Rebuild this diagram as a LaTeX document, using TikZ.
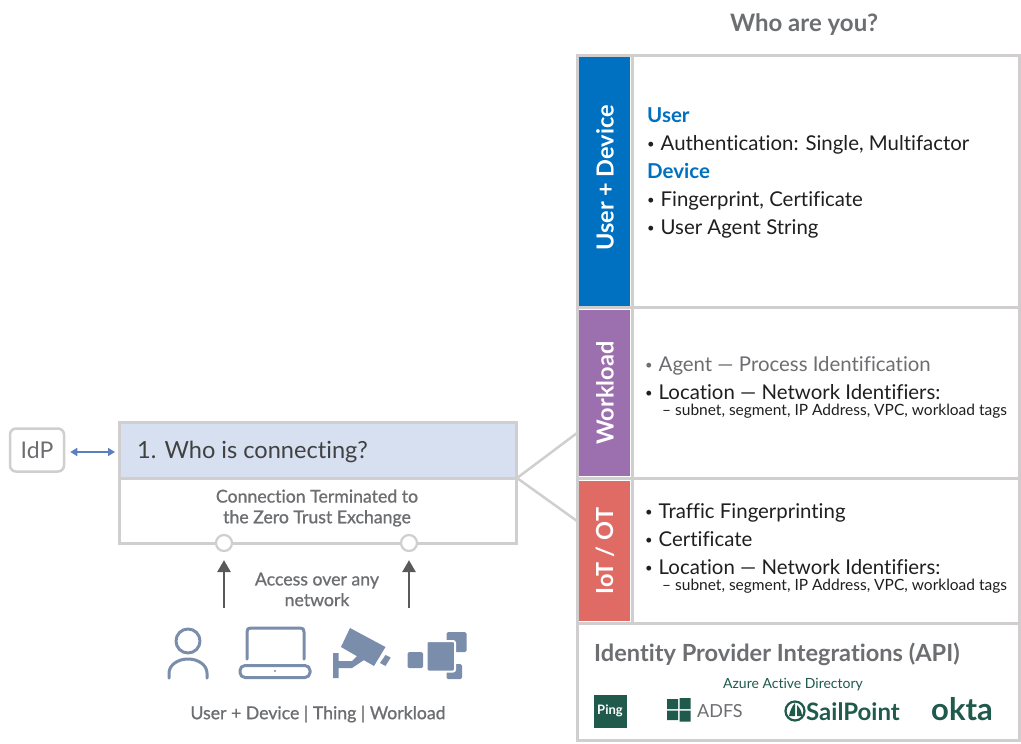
\documentclass[tikz,border=0pt]{standalone}
\usepackage{fontspec}
\setmainfont[Ligatures=NoCommon]{Lato}
\newfontfamily\medfont[FakeBold=1,Ligatures=NoCommon]{Lato}
\definecolor{rule}{HTML}{D0CECE}
\definecolor{txtgray}{HTML}{6D6E71}
\definecolor{ink}{HTML}{1F1F1F}
\definecolor{bluebar}{HTML}{0070C0}
\definecolor{purplebar}{HTML}{9C70AF}
\definecolor{redbar}{HTML}{E06B65}
\definecolor{titlefill}{HTML}{D6E0F1}
\definecolor{icon}{HTML}{7A8EAB}
\definecolor{arrowblue}{HTML}{5B7FBF}
\definecolor{arrowgray}{HTML}{595959}
\definecolor{logo}{HTML}{1F5A4C}
\newcommand{\fs}[1]{\fontsize{#1}{#1}\selectfont}
\newcommand{\bul}{\makebox[13.5pt][l]{\fs{13}\raisebox{1.5pt}{•}}}
\usetikzlibrary{arrows.meta}
\tikzset{
 x=1pt,y=-1pt,
 cell/.style={draw=rule,line width=3pt,fill=white},
 bartext/.style={white,font=\fs{23.5}\bfseries,rotate=90,anchor=center},
 item/.style={anchor=base west,inner sep=0pt,text=ink,font=\fs{20.4}},
 itemgray/.style={item,text=txtgray},
 head/.style={item,text=bluebar,font=\fs{20.5}\bfseries},
 subitem/.style={item,font=\fs{15.5}},
 graytext/.style={text=txtgray,inner sep=0pt,align=center,font=\medfont\fs{17.7}},
 port/.style={circle,draw=rule,line width=2.2pt,fill=white,minimum size=16pt,inner sep=0pt},
 link/.style={draw=rule,line width=2.5pt},
 up/.style={draw=arrowgray,line width=2.5pt,-{Triangle[length=12pt,width=13pt]},shorten >=8pt},
 iconline/.style={draw=icon,line width=3pt,line cap=round,line join=round},
 iconfill/.style={fill=icon,rounded corners=1.5pt},
}
\begin{document}
\begin{tikzpicture}
\useasboundingbox (0,0) rectangle (1021,744);
% heading
\node[font=\fs{24}\bfseries,text=txtgray,inner sep=0pt,anchor=base] (who) at (804,31) {Who are you?};
% right table
\draw[cell] (577,55) rectangle (1019,740);
\fill[bluebar] (578.5,56.5) rectangle (630,305.5);
\fill[purplebar] (578.5,310) rectangle (630,476);
\fill[redbar] (578.5,481) rectangle (630,621);
\draw[rule,line width=3pt] (632,55) -- (632,622);
\draw[rule,line width=3pt] (577,307.5) -- (1019,307.5);
\draw[rule,line width=3pt] (577,478.5) -- (1019,478.5);
\draw[rule,line width=3pt] (577,623) -- (1019,623);
\node[bartext] (t1) at (605,178) {User + Device};
\node[bartext] (t2) at (605,393) {Workload};
\node[bartext] (t3) at (605,551) {IoT / OT};
% row 1
\node[head] (u) at (647,122) {User};
\node[item] (a1) at (647,150) {\bul Authentication: Single, Multifactor};
\node[head] (d) at (647,178) {Device};
\node[item] (a2) at (647,206) {\bul Fingerprint, Certificate};
\node[item] (a3) at (647,234) {\bul User Agent String};
% row 2
\node[itemgray] (b1) at (645,371) {\bul Agent — Process Identification};
\node[item] (b2) at (645,399) {\bul Location — Network Identifiers:};
\node[subitem] (b3) at (662,415) {– subnet, segment, IP Address, VPC, workload tags};
% row 3
\node[item] (c1) at (645,518) {\bul Traffic Fingerprinting};
\node[item] (c2) at (645,546) {\bul Certificate};
\node[item] (c3) at (645,574) {\bul Location — Network Identifiers:};
\node[subitem] (c4) at (662,590) {– subnet, segment, IP Address, VPC, workload tags};
% integrations
\node[item,text=txtgray,font=\fs{23.6}\bfseries] (idpi) at (594,661) {Identity Provider Integrations (API)};
\node[inner sep=0pt,anchor=base,text=logo,font=\fs{14}] (az) at (793,688) {Azure Active Directory};
\node[fill=logo,minimum width=33pt,minimum height=33pt,inner sep=0pt,text=white,font=\fs{13}\bfseries] (ping) at (610,711) {Ping};
\fill[logo] (667,699) rectangle (678,709) (679.5,698) rectangle (690.5,709)
 (667,710.5) rectangle (678,720) (679.5,710.5) rectangle (690.5,721.5);
\node[inner sep=0pt,anchor=base west,text=txtgray,font=\fs{18}] (adfs) at (697,717) {ADFS};
\draw[logo,line width=2.2pt] (795,711) circle (9.5);
\fill[logo] (795,703) -- (795,716) -- (789,716) .. controls (790,711) and (792,706) .. (795,703) -- cycle;
\fill[logo] (797,705) .. controls (800,708) and (802,712) .. (802,716) -- (797,716) -- cycle;
\node[inner sep=0pt,anchor=base west,text=logo,font=\fs{24}\bfseries] (sail) at (806,720) {SailPoint};
\node[inner sep=0pt,anchor=base west,text=logo,font=\fs{31}\bfseries] (okta) at (931,720) {okta};
% left box
\coordinate (fork) at (517,478);
\coordinate (rowa) at (577,433);
\coordinate (rowb) at (577,521);
\draw[link] (rowa) -- (fork) -- (rowb);
\node[draw=rule,line width=3pt,fill=white,minimum width=397pt,minimum height=65pt,inner sep=0pt] (low) at (318,510.5) {};
\node[draw=rule,line width=3pt,fill=titlefill,minimum width=397pt,minimum height=56pt,inner sep=0pt] (title) at (318,450) {};
\node[item,font=\fs{23.6},text=ink!85] (titletext) at (137,458) {1. Who is connecting?};
\node[graytext] (conn) at (317,508) {Connection Terminated to\\[3pt]the Zero Trust Exchange};
\node[port] (p1) at (224,543) {};
\node[port] (p2) at (409,543) {};
\coordinate (a1s) at (224,608);
\coordinate (a2s) at (409,608);
\draw[up] (a1s) -- (p1);
\draw[up] (a2s) -- (p2);
\node[graytext] (acc) at (317,589.5) {Access over any\\[3pt]network};
% idp
\node[draw=rule,line width=2.5pt,rounded corners=6pt,minimum width=54pt,minimum height=43pt,inner sep=0pt,text=txtgray,font=\fs{23}] (idp) at (37,450) {IdP};
\draw[arrowblue,line width=1.5pt,{Triangle[length=7pt,width=8pt]}-{Triangle[length=7pt,width=8pt]},shorten >=3pt,shorten <=5pt] (idp.east |- 0,452) -- (title.west |- 0,452);
% person
\draw[iconline] (188,641) circle (12);
\draw[iconline] (169,678) -- (169,673) arc (180:360:19 and 14) -- (207,678);
% laptop
\draw[iconline] (247,659) -- (247,632) .. controls (247,629) and (248,628) .. (251,628) -- (300,628) .. controls (303,628) and (304,629) .. (304,632) -- (304,659);
\draw[iconline,rounded corners=5pt] (240,665.5) rectangle (310,677.5);
\fill[icon] (275,671) circle (1.2);
% camera
\fill[icon] (350,628) -- (385.5,647) -- (374,666) -- (341,647) -- cycle;
\fill[icon] (385.5,655) -- (390.7,657.5) -- (385.5,666) -- (380,663) -- cycle;
\fill[icon] (333,653) -- (338.5,653) -- (338.5,661) -- (352,661) -- (358,655) -- (364,660) -- (352,668) -- (338.5,668) -- (338.5,678) -- (333,678) -- cycle;
% workload
\fill[iconfill] (446.5,632) rectangle (466.5,652);
\fill[iconfill] (446.5,664) rectangle (462,679);
\fill[iconfill] (407.5,652) rectangle (423,668);
\draw[white,line width=2pt,fill=icon,rounded corners=2pt] (426.5,641) rectangle (455,671.5);
\node[graytext] (ud) at (318,714) {User + Device | Thing | Workload};
\end{tikzpicture}
\end{document}
